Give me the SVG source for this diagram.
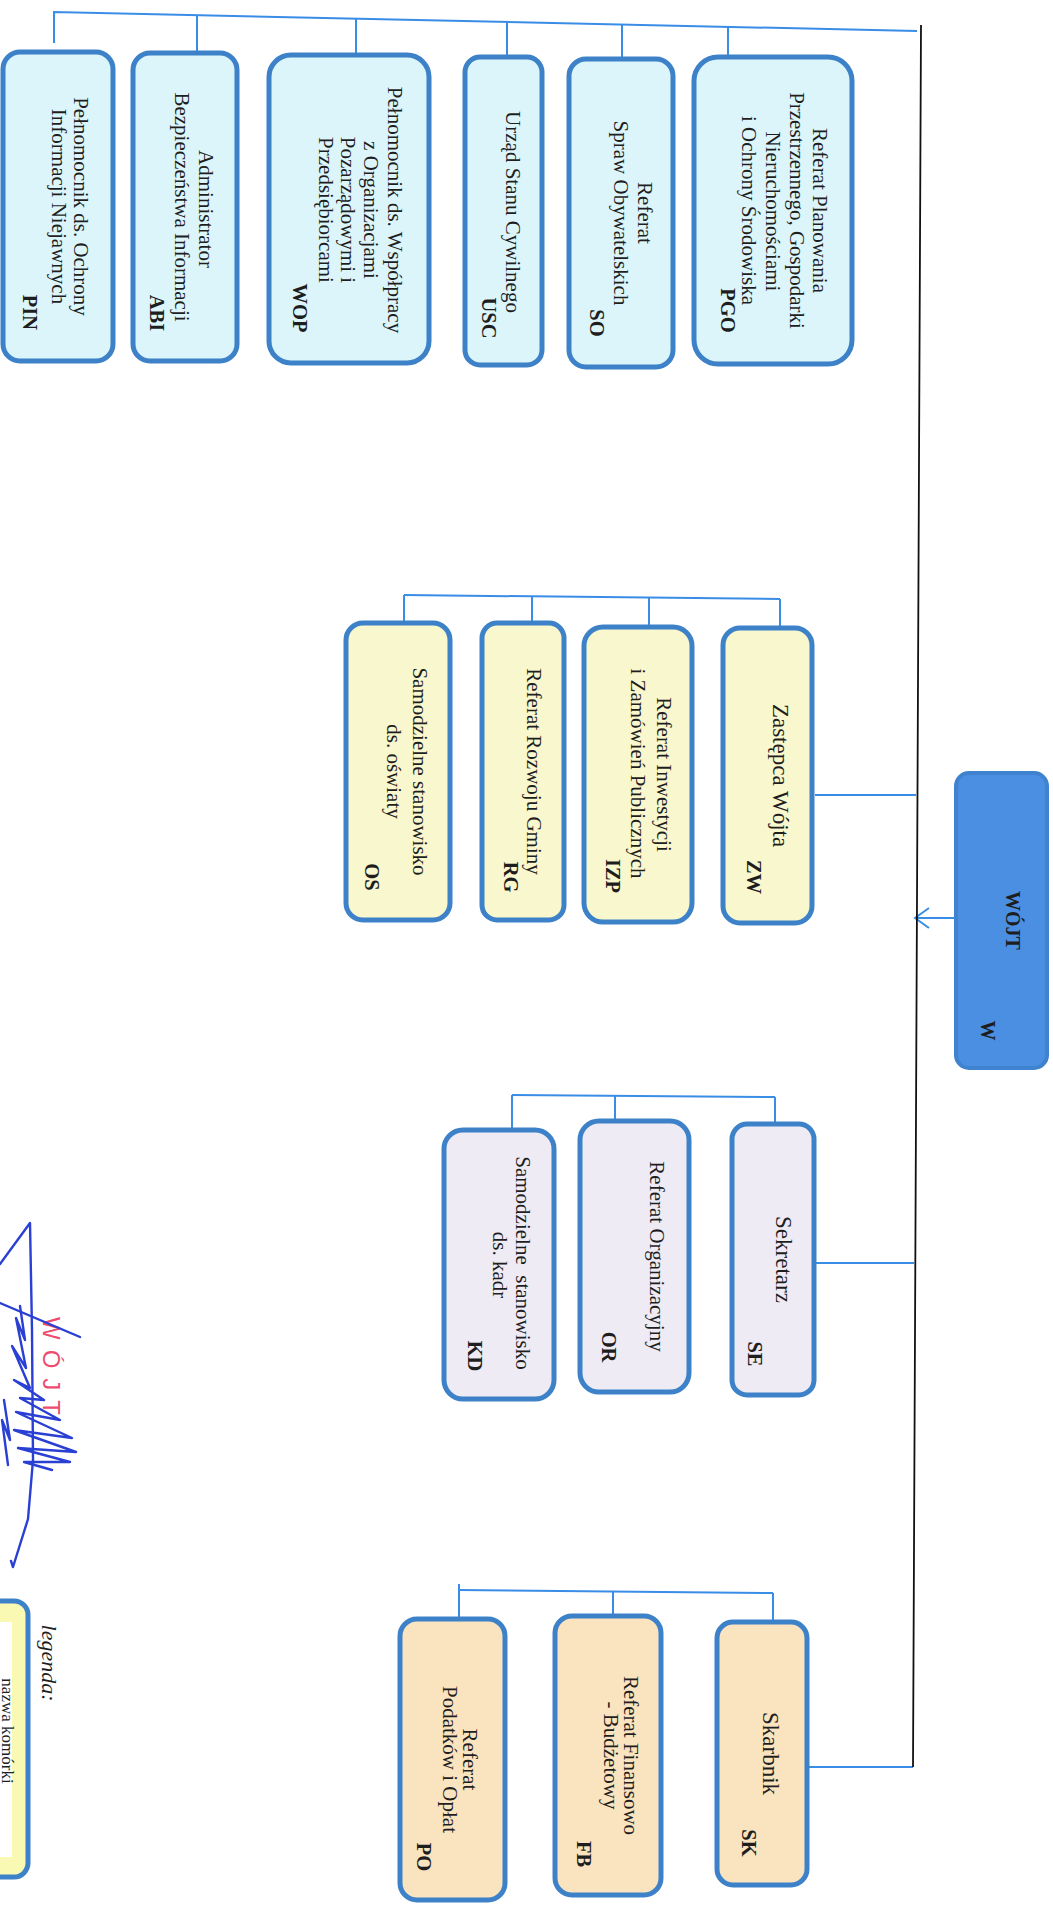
<svg xmlns="http://www.w3.org/2000/svg" width="1053" height="1907" viewBox="0 0 1053 1907">
<style>
.box{stroke:#3d82c9;stroke-width:5}
.cy{fill:#dcf5fa}
.ye{fill:#f8f7cd}
.la{fill:#eeebf5}
.pe{fill:#fae3bf}
.wj{fill:#4a8fe2;stroke:#3f82cf;stroke-width:4}
text{font-family:"Liberation Serif","Times New Roman",serif;font-size:21px;fill:#1e1e1e;text-anchor:middle;dominant-baseline:central}
.b{font-weight:bold;font-size:20.5px}
.big{font-size:23px}
.con{stroke:#3a8de6;stroke-width:2;fill:none}
.trunk{stroke:#111;stroke-width:1.8;fill:none}
.sig{stroke:#2a3fd4;stroke-width:2.4;fill:none;stroke-linecap:round;stroke-linejoin:round}
</style>
<rect width="1053" height="1907" fill="#fff"/>

<g id="connectors">
  <polyline class="con" points="54,43 54,12 917,31"/>
  <line class="con" x1="197" y1="15" x2="197" y2="53"/>
  <line class="con" x1="356" y1="18.5" x2="356" y2="55"/>
  <line class="con" x1="507" y1="22" x2="507" y2="57"/>
  <line class="con" x1="622" y1="24.5" x2="622" y2="59"/>
  <line class="con" x1="728" y1="27" x2="728" y2="57"/>
  <line class="con" x1="404" y1="595" x2="780" y2="599"/>
  <line class="con" x1="404" y1="595" x2="404" y2="623"/>
  <line class="con" x1="532" y1="596.4" x2="532" y2="623"/>
  <line class="con" x1="649" y1="597.6" x2="649" y2="627"/>
  <line class="con" x1="780" y1="599" x2="780" y2="628"/>
  <line class="con" x1="815" y1="795" x2="916" y2="795"/>
  <line class="con" x1="956" y1="918" x2="915" y2="918"/>
  <polyline class="con" points="929,908 915,918 929,928"/>
  <line class="con" x1="512" y1="1095" x2="775" y2="1097"/>
  <line class="con" x1="512" y1="1095" x2="512" y2="1130"/>
  <line class="con" x1="615" y1="1096" x2="615" y2="1121"/>
  <line class="con" x1="775" y1="1097" x2="775" y2="1124"/>
  <line class="con" x1="816" y1="1263" x2="914" y2="1263"/>
  <line class="con" x1="459" y1="1590" x2="773" y2="1593"/>
  <line class="con" x1="459" y1="1584" x2="459" y2="1619"/>
  <line class="con" x1="613" y1="1591.5" x2="613" y2="1616"/>
  <line class="con" x1="773" y1="1593" x2="773" y2="1622"/>
  <line class="con" x1="809" y1="1767" x2="913" y2="1767"/>
  <polyline class="trunk" points="921,25 917,900 913,1767"/>
</g>

<g id="PIN">
  <rect class="box cy" x="3" y="52" width="110" height="309" rx="17"/>
  <g transform="translate(58,206.5) rotate(90)">
    <text x="0" y="-23">Pełnomocnik ds. Ochrony</text>
    <text x="0" y="-1">Informacji Niejawnych</text>
    <text class="b" x="106" y="28">PIN</text>
  </g>
</g>
<g id="ABI">
  <rect class="box cy" x="133" y="53" width="104" height="308" rx="17"/>
  <g transform="translate(185,207) rotate(90)">
    <text x="2" y="-21">Administrator</text>
    <text x="0" y="3">Bezpieczeństwa Informacji</text>
    <text class="b" x="106" y="28">ABI</text>
  </g>
</g>
<g id="WOP">
  <rect class="box cy" x="269" y="55" width="160" height="308" rx="22"/>
  <g transform="translate(349,209) rotate(90)">
    <text x="1" y="-46">Pełnomocnik ds. Współpracy</text>
    <text x="1" y="-22">z Organizacjami</text>
    <text x="1" y="1">Pozarządowymi i</text>
    <text x="1" y="23">Przedsiębiorcami</text>
    <text class="b" x="99" y="49">WOP</text>
  </g>
</g>
<g id="USC">
  <rect class="box cy" x="465" y="57" width="77" height="308" rx="15"/>
  <g transform="translate(503.5,211) rotate(90)">
    <text x="1" y="-9.5">Urząd Stanu Cywilnego</text>
    <text class="b" x="107" y="14.5">USC</text>
  </g>
</g>
<g id="SO">
  <rect class="box cy" x="569" y="59" width="104" height="308" rx="17"/>
  <g transform="translate(621,213) rotate(90)">
    <text x="0" y="-24">Referat</text>
    <text x="0" y="0">Spraw Obywatelskich</text>
    <text class="b" x="110" y="24">SO</text>
  </g>
</g>
<g id="PGO">
  <rect class="box cy" x="694" y="57" width="158" height="307" rx="24"/>
  <g transform="translate(773,210.5) rotate(90)">
    <text x="0" y="-47">Referat Planowania</text>
    <text x="0" y="-24">Przestrzennego, Gospodarki</text>
    <text x="1" y="0">Nieruchomościami</text>
    <text x="0" y="24">i Ochrony Środowiska</text>
    <text class="b" x="100" y="45">PGO</text>
  </g>
</g>

<g id="OS">
  <rect class="box ye" x="346" y="623" width="104" height="297" rx="17"/>
  <g transform="translate(398,771.5) rotate(90)">
    <text x="0" y="-22">Samodzielne stanowisko</text>
    <text x="0" y="4">ds. oświaty</text>
    <text class="b" x="105.5" y="26">OS</text>
  </g>
</g>
<g id="RG">
  <rect class="box ye" x="482" y="623" width="82" height="297" rx="15"/>
  <g transform="translate(523,771.5) rotate(90)">
    <text x="0" y="-11">Referat Rozwoju Gminy</text>
    <text class="b" x="105.5" y="12">RG</text>
  </g>
</g>
<g id="IZP">
  <rect class="box ye" x="584" y="627" width="108" height="295" rx="19"/>
  <g transform="translate(638,774.5) rotate(90)">
    <text x="0" y="-26">Referat Inwestycji</text>
    <text x="-1" y="0">i Zamówień Publicznych</text>
    <text class="b" x="101.5" y="25">IZP</text>
  </g>
</g>
<g id="ZW">
  <rect class="box ye" x="723" y="628" width="89" height="295" rx="17"/>
  <g transform="translate(767.5,775.5) rotate(90)">
    <text class="big" x="0" y="-12.5">Zastępca Wójta</text>
    <text class="b" x="101.5" y="13.5">ZW</text>
  </g>
</g>

<g id="W">
  <rect class="wj" x="956" y="773" width="91" height="295" rx="13"/>
  <g transform="translate(1001.5,920.5) rotate(90)">
    <text class="b" x="0" y="-11.5" style="font-size:20px">WÓJT</text>
    <text class="b" x="110" y="13.5" style="font-size:20px">W</text>
  </g>
</g>

<g id="KD">
  <rect class="box la" x="444" y="1130" width="110" height="269" rx="19"/>
  <g transform="translate(499,1264.5) rotate(90)">
    <text x="-1.5" y="-24">Samodzielne&#160; stanowisko</text>
    <text x="0.5" y="-1">ds. kadr</text>
    <text class="b" x="91.5" y="24">KD</text>
  </g>
</g>
<g id="OR">
  <rect class="box la" x="580" y="1121" width="109" height="271" rx="19"/>
  <g transform="translate(634.5,1256.5) rotate(90)">
    <text x="0" y="-22.5">Referat Organizacyjny</text>
    <text class="b" x="90.5" y="25.5">OR</text>
  </g>
</g>
<g id="SE">
  <rect class="box la" x="732" y="1124" width="82" height="271" rx="15"/>
  <g transform="translate(773,1259.5) rotate(90)">
    <text class="big" x="0" y="-10">Sekretarz</text>
    <text class="b" x="94.5" y="18">SE</text>
  </g>
</g>

<g id="PO">
  <rect class="box pe" x="400" y="1619" width="105" height="281" rx="17"/>
  <g transform="translate(452.5,1759.5) rotate(90)">
    <text x="0" y="-17.5">Referat</text>
    <text x="0" y="2.5">Podatków i Opłat</text>
    <text class="b" x="97.5" y="28.5">PO</text>
  </g>
</g>
<g id="FB">
  <rect class="box pe" x="555" y="1616" width="106" height="279" rx="17"/>
  <g transform="translate(608,1755.5) rotate(90)">
    <text x="0" y="-23">Referat Finansowo</text>
    <text x="0" y="-3">- Budżetowy</text>
    <text class="b" x="98.5" y="24">FB</text>
  </g>
</g>
<g id="SK">
  <rect class="box pe" x="717" y="1622" width="90" height="263" rx="16"/>
  <g transform="translate(762,1753.5) rotate(90)">
    <text class="big" x="0" y="-8">Skarbnik</text>
    <text class="b" x="89.5" y="13">SK</text>
  </g>
</g>

<g id="legend">
  <rect x="-30" y="1601" width="58" height="276" rx="14" fill="#f9f9b3" stroke="#3d82c9" stroke-width="5"/>
  <rect x="-30" y="1622" width="42" height="235" fill="#ffffff"/>
  <g transform="translate(0,1731) rotate(90)">
    <text x="0" y="-1.5" style="dominant-baseline:alphabetic;font-size:17px">nazwa komórki</text>
  </g>
  <g transform="translate(49,1663) rotate(90)">
    <text x="0" y="0" style="font-style:italic;font-size:22px">legenda:</text>
  </g>
</g>

<g id="signature">
  <g transform="translate(51,1366) rotate(90)">
    <text x="5" y="0" style="font-family:'Liberation Sans',Arial,sans-serif;font-size:24px;fill:#ee4b6e;letter-spacing:10px">WÓJT</text>
  </g>
  <polyline class="sig" points="0,1264 30,1223 32,1330 33,1460 28,1519 13,1567 11,1561"/>
  <line class="sig" x1="0" y1="1303" x2="80" y2="1337"/>
  <polyline class="sig" points="20,1306 25,1340 16,1318 26,1368 12,1346 30,1388 14,1380 44,1400 20,1398 60,1420 16,1412 72,1438 14,1430 76,1452 18,1448 70,1462 24,1462 52,1470"/>
  <polyline class="sig" points="4,1400 10,1440 2,1420 8,1465"/>
</g>
</svg>
